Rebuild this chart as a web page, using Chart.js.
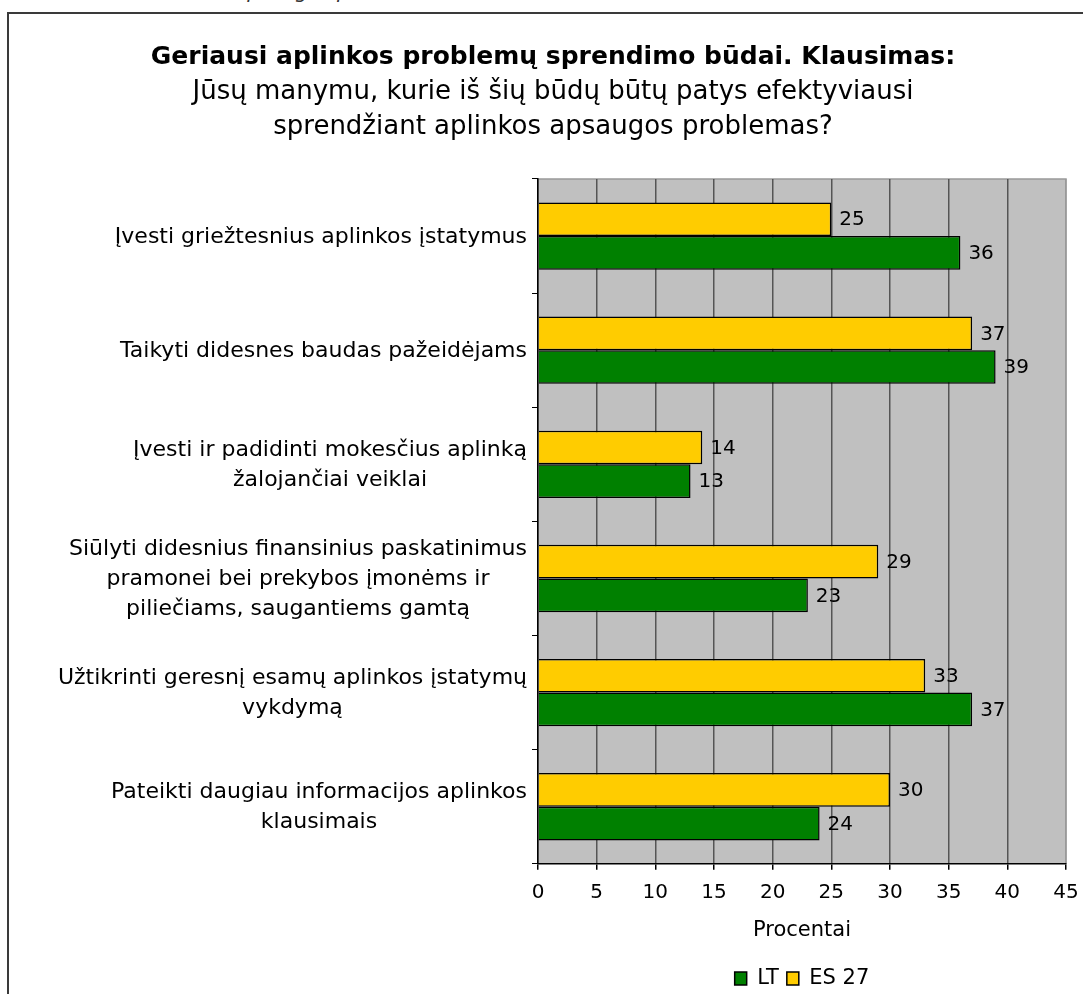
<!DOCTYPE html>
<html>
<head>
<meta charset="utf-8">
<script src="https://cdn.jsdelivr.net/npm/chart.js@4.4.0/dist/chart.umd.min.js"></script>
<style>
  html, body { margin: 0; padding: 0; background: #fff; overflow: hidden; }
  #above { position: absolute; left: 235px; top: -21px; font: italic 20px 'DejaVu Sans', sans-serif; color: #333; }
  #frame { position: absolute; left: 7px; top: 12px; width: 1200px; height: 1200px; border: 2px solid #3a3a3a; }
  #wrap { position: absolute; left: 0; top: 0; width: 1090px; height: 999px; }
</style>
</head>
<body>
<div id="above">apsaugos problemas</div>
<div id="frame"></div>
<div id="wrap"><canvas id="chart"></canvas></div>
<script>
const categories = [
  "Įvesti griežtesnius aplinkos įstatymus",
  "Taikyti didesnes baudas pažeidėjams",
  ["Įvesti ir padidinti mokesčius aplinką", "žalojančiai veiklai"],
  ["Siūlyti didesnius finansinius paskatinimus", "pramonei bei prekybos įmonėms ir", "piliečiams, saugantiems gamtą"],
  ["Užtikrinti geresnį esamų aplinkos įstatymų", "vykdymą"],
  ["Pateikti daugiau informacijos aplinkos", "klausimais"]
];
const es27 = [25, 37, 14, 29, 33, 30];
const lt = [36, 39, 13, 23, 37, 24];
const xTicks = [0, 5, 10, 15, 20, 25, 30, 35, 40, 45];

Chart.defaults.font.family = "'DejaVu Sans', Verdana, sans-serif";
Chart.defaults.color = "#000";

// grey plot background with light top/right edge
const plotBack = {
  id: "plotBack",
  beforeDraw(chart) {
    const a = chart.chartArea, c = chart.ctx;
    c.save();
    c.fillStyle = "#c0c0c0";
    c.fillRect(a.left, a.top, a.right - a.left, a.bottom - a.top);
    c.strokeStyle = "#999";
    c.lineWidth = 1.5;
    c.beginPath();
    c.moveTo(a.left, a.top);
    c.lineTo(a.right, a.top);
    c.lineTo(a.right, a.bottom);
    c.stroke();
    c.restore();
  }
};

// value labels at the end of each bar
const barValues = {
  id: "barValues",
  afterDatasetsDraw(chart) {
    const c = chart.ctx;
    c.save();
    c.font = "20px 'DejaVu Sans', Verdana, sans-serif";
    c.fillStyle = "#000";
    c.textAlign = "left";
    c.textBaseline = "middle";
    chart.data.datasets.forEach((ds, i) => {
      chart.getDatasetMeta(i).data.forEach((bar, j) => {
        c.fillText(ds.data[j], bar.x + 8, bar.y + 1);
      });
    });
    c.restore();
  }
};

// category labels: block right aligned, lines centred inside the block
const catLabels = {
  id: "catLabels",
  afterDraw(chart) {
    const ys = chart.scales.y, c = chart.ctx;
    c.save();
    c.font = "22px 'DejaVu Sans', Verdana, sans-serif";
    c.fillStyle = "#000";
    c.textAlign = "center";
    c.textBaseline = "middle";
    const lh = 30;
    categories.forEach((lab, i) => {
      const lines = Array.isArray(lab) ? lab : [lab];
      const w = Math.max(...lines.map(s => c.measureText(s).width));
      const cx = ys.right - 11 - w / 2;
      const y = ys.getPixelForTick(i);
      lines.forEach((s, k) => {
        c.fillText(s, cx, y + (k - (lines.length - 1) / 2) * lh + 1);
      });
    });
    c.restore();
  }
};

new Chart(document.getElementById("chart"), {
  type: "bar",
  data: {
    labels: categories,
    datasets: [{
      label: "ES 27",
      data: es27,
      backgroundColor: "#ffcc00",
      borderColor: "#000",
      borderWidth: 1.5,
      barPercentage: 1,
      categoryPercentage: 0.59
    }, {
      label: "LT",
      data: lt,
      backgroundColor: "#008000",
      borderColor: "#000",
      borderWidth: 1.5,
      barPercentage: 1,
      categoryPercentage: 0.59
    }]
  },
  options: {
    indexAxis: "y",
    responsive: true,
    maintainAspectRatio: false,
    animation: false,
    layout: { padding: { left: 40, right: 24, top: 0, bottom: 0 } },
    scales: {
      x: {
        min: 0,
        max: 45,
        afterBuildTicks(scale) { scale.ticks = xTicks.map(v => ({ value: v })); },
        ticks: { font: { size: 20 }, padding: 11, color: "#000" },
        grid: {
          color: ctx => ctx.tick && ctx.tick.value === 45 ? "#999" : "#555",
          lineWidth: 1.5,
          tickLength: 6,
          tickColor: "#000"
        },
        border: { color: "#000", width: 1.5 },
        title: {
          display: true,
          text: "Procentai",
          font: { size: 21 },
          color: "#000",
          padding: { top: 2, bottom: 17 }
        }
      },
      y: {
        afterFit(scale) { scale.width = 498; },
        ticks: { display: false },
        grid: { drawOnChartArea: false, tickLength: 6, tickColor: "#000", offset: true },
        border: { color: "#000", width: 1.5 }
      }
    },
    plugins: {
      title: {
        display: true,
        text: "Geriausi aplinkos problemų sprendimo būdai. Klausimas:",
        font: { size: 25, weight: "bold" },
        color: "#000",
        padding: { top: 42, bottom: 3 }
      },
      subtitle: {
        display: true,
        text: ["Jūsų manymu, kurie iš šių būdų būtų patys efektyviausi", "sprendžiant aplinkos apsaugos problemas?"],
        font: { size: 26, lineHeight: 1.346 },
        color: "#000",
        padding: { top: 0, bottom: 34 }
      },
      legend: {
        position: "bottom",
        fullSize: false,
        reverse: true,
        labels: { font: { size: 21 }, boxWidth: 12, boxHeight: 13, padding: 8, color: "#000" }
      },
      tooltip: { enabled: false }
    }
  },
  plugins: [plotBack, barValues, catLabels]
});
</script>
</body>
</html>
